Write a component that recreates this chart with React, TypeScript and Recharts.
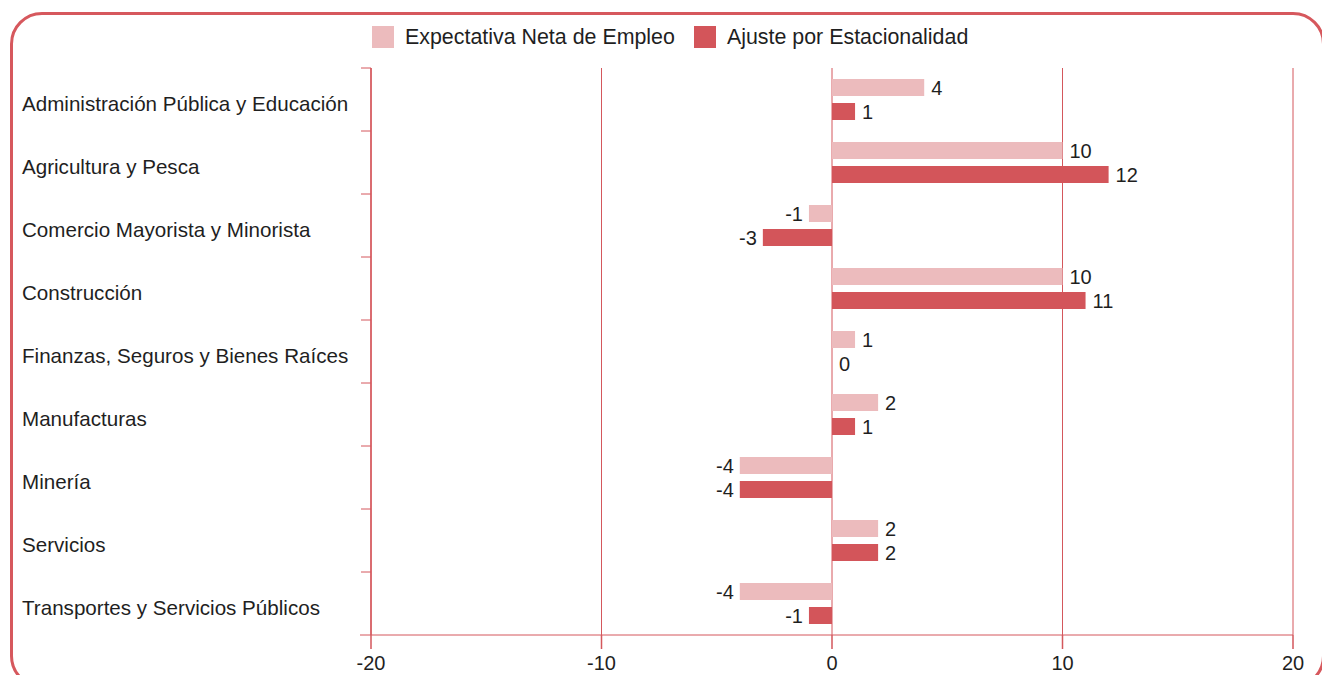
import { Bar, BarChart, CartesianGrid, XAxis, YAxis } from 'recharts'

const sectors = [
  'Administración Pública y Educación',
  'Agricultura y Pesca',
  'Comercio Mayorista y Minorista',
  'Construcción',
  'Finanzas, Seguros y Bienes Raíces',
  'Manufacturas',
  'Minería',
  'Servicios',
  'Transportes y Servicios Públicos',
]
const netExpectation = [4, 10, -1, 10, 1, 2, -4, 2, -4]
const seasonalAdjusted = [1, 12, -3, 11, 0, 1, -4, 2, -1]
const xTicks = [-20, -10, 0, 10, 20]
const seriesNames = ['Expectativa Neta de Empleo', 'Ajuste por Estacionalidad']

const PINK = '#ecbbbd'
const RED = '#d3555a'
const LINE = '#d4575c'
const INK = '#1f1f1f'
const FONT = '"Liberation Sans", Arial, sans-serif'
const X_TICK = 13
const X_GAP = 6

const data = sectors.map((name, i) => ({
  name,
  neta: netExpectation[i],
  ajuste: seasonalAdjusted[i],
}))

// category label plus the short marks at the band edges
function SectorTick({ x, y, payload, index }: any) {
  const half = Number(payload?.offset) || 0
  const ax = Number(x)
  return (
    <g>
      <text x={22} y={y} dy={4} dominantBaseline="central" textAnchor="start" fontSize={20.6} fill={INK} fontFamily={FONT}>
        {payload.value}
      </text>
      {half > 0 && <line x1={ax - 10} x2={ax} y1={y - half} y2={y - half} stroke={LINE} />}
      {half > 0 && index === sectors.length - 1 && (
        <line x1={ax - 11} x2={ax} y1={y + half} y2={y + half} stroke={LINE} />
      )}
    </g>
  )
}

// value tick with its mark hanging under the axis
function ValueTick({ x, y, payload }: any) {
  const px = Number(x)
  const py = Number(y)
  return (
    <g>
      <rect x={px - 0.75} y={py - X_GAP - X_TICK} width={1.5} height={X_TICK + 1} fill={LINE} />
      <text x={px} y={py + 2} dy="0.71em" textAnchor="middle" fontSize={20} fill={INK} fontFamily={FONT}>
        {payload.value}
      </text>
    </g>
  )
}

function BarWithValue(props: any) {
  const { x, y, width, height, fill, value } = props
  const w = Number(width)
  const v = Array.isArray(value) ? value[1] - value[0] : Number(value)
  const neg = v < 0
  const left = Math.min(x, x + w)
  const end = x + w
  return (
    <g>
      {Math.abs(w) > 0 && <rect x={left} y={y} width={Math.abs(w)} height={height} fill={fill} />}
      <text
        x={end + (neg ? -6 : 7)}
        y={y + height / 2}
        dominantBaseline="central"
        textAnchor={neg ? 'end' : 'start'}
        fontSize={20}
        fill={INK}
        fontFamily={FONT}
      >
        {v}
      </text>
    </g>
  )
}

export default function App() {
  const colors = [PINK, RED]
  return (
    <div
      style={{
        position: 'fixed',
        left: 0,
        top: 0,
        width: 1322,
        height: 675,
        overflow: 'hidden',
        background: '#fff',
        fontFamily: FONT,
      }}
    >
      <div
        style={{
          position: 'absolute',
          left: 10,
          top: 12,
          width: 1315,
          height: 676,
          border: '3px solid #d6585d',
          borderRadius: 32,
          boxSizing: 'border-box',
        }}
      />
      <div style={{ position: 'absolute', left: 372, top: 26, display: 'flex', alignItems: 'center', gap: 19 }}>
        {seriesNames.map((s, i) => (
          <div key={s} style={{ display: 'flex', alignItems: 'center' }}>
            <span style={{ width: 22, height: 22, background: colors[i], display: 'inline-block', marginRight: 11 }} />
            <span style={{ fontSize: 21.4, color: INK, lineHeight: '22px' }}>{s}</span>
          </div>
        ))}
      </div>
      <div style={{ position: 'absolute', left: 0, top: 0 }}>
        <BarChart
          width={1322}
          height={675}
          data={data}
          layout="vertical"
          margin={{ top: 68, right: 29, bottom: 0, left: 0 }}
          barSize={17}
          barGap={7}
        >
          <CartesianGrid horizontal={false} stroke={LINE} strokeWidth={1} />
          <XAxis
            type="number"
            domain={[-20, 20]}
            ticks={xTicks}
            height={40}
            tickSize={X_TICK}
            tickMargin={X_GAP}
            axisLine={{ stroke: LINE }}
            tickLine={false}
            tick={<ValueTick />}
          />
          <YAxis
            type="category"
            dataKey="name"
            width={371}
            tickSize={0}
            tickMargin={0}
            axisLine={{ stroke: LINE, strokeWidth: 1.5 }}
            tickLine={false}
            tick={<SectorTick />}
          />
          <Bar dataKey="neta" name={seriesNames[0]} fill={PINK} isAnimationActive={false} shape={<BarWithValue />} />
          <Bar dataKey="ajuste" name={seriesNames[1]} fill={RED} isAnimationActive={false} shape={<BarWithValue />} />
        </BarChart>
      </div>
    </div>
  )
}
